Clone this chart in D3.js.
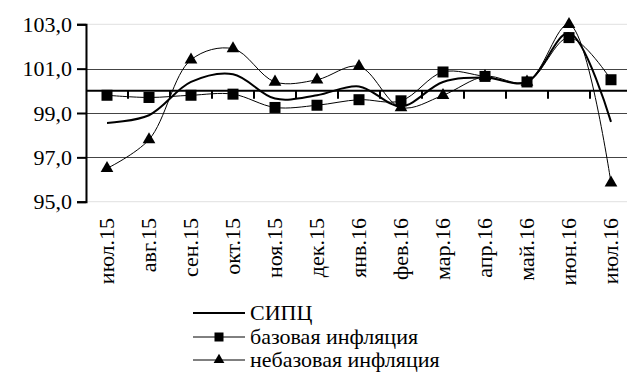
<!DOCTYPE html>
<html><head><meta charset="utf-8">
<script src="https://cdn.jsdelivr.net/npm/d3@7"></script>
</head><body style="margin:0">
<svg id="c" width="627" height="372"></svg>
<script>
const categories = ["июл.15","авг.15","сен.15","окт.15","ноя.15","дек.15","янв.16","фев.16","мар.16","апр.16","май.16","июн.16","июл.16"];
const sipc = [98.55,98.9,100.4,100.75,99.65,99.8,100.2,99.3,100.4,100.6,100.4,102.6,98.6];
const baseInfl = [99.8,99.7,99.8,99.85,99.25,99.35,99.6,99.55,100.85,100.65,100.4,102.4,100.5];
const nonBaseInfl = [96.5,97.8,101.4,101.9,100.4,100.5,101.1,99.25,99.8,100.65,100.4,103.0,95.85];
const yTicks = [95,97,99,101,103];
const seriesNames = ["СИПЦ","базовая инфляция","небазовая инфляция"];

const svg = d3.select("#c");
const x = d3.scaleBand().domain(categories).range([86,632]);
const y = d3.scaleLinear().domain([95,103]).range([201.7,24.3]);
const cx = d => x(d)+x.bandwidth()/2;
function serif(sel, size){ return sel.style("font-family", '"Times New Roman"').style("font-size", size+"px").attr("fill","#000"); }

svg.append("rect").attr("x",86).attr("y",y(103)).attr("width",600).attr("height",y(95)-y(103))
  .attr("fill","none").attr("stroke","#e0e0e0").attr("stroke-width",1);
svg.selectAll(".grid").data([97,99,101]).join("line")
  .attr("x1",86).attr("x2",627).attr("y1",d=>Math.round(y(d))+0.5).attr("y2",d=>Math.round(y(d))+0.5)
  .attr("stroke","#444").attr("stroke-width",1);

const ya = svg.append("g").attr("transform","translate(86,0)")
  .call(d3.axisLeft(y).tickValues(yTicks).tickSize(9).tickFormat(""));
ya.select(".domain").attr("stroke","#000").attr("stroke-width",2);
ya.selectAll(".tick line").attr("stroke","#000").attr("stroke-width",2);
const ylab = svg.selectAll(".yl").data(yTicks).enter().append("text")
  .attr("x",72).attr("y",d=>y(d)).attr("dy","0.35em").attr("text-anchor","end")
  .text(d=>d3.format(".1f")(d).replace(".",","));
serif(ylab,22);

const xa = svg.append("g").attr("transform",`translate(0,${y(100)})`);
xa.append("line").attr("x1",86).attr("x2",627).attr("stroke","#000").attr("stroke-width",2);
xa.selectAll(".tk").data(categories.slice(1)).join("line")
  .attr("x1",d=>x(d)).attr("x2",d=>x(d)).attr("y1",0).attr("y2",8).attr("stroke","#000").attr("stroke-width",2);

const xl = svg.selectAll(".xl").data(categories).enter().append("text")
  .attr("transform",d=>`translate(${cx(d)+7},218) rotate(-90)`)
  .attr("text-anchor","end").text(d=>d);
serif(xl,22);

const curve = d3.curveCatmullRom.alpha(0.5);
const line = d3.line().x((d,i)=>cx(categories[i])).y(d=>y(d)).curve(curve);

svg.append("path").datum(nonBaseInfl).attr("d",line).attr("fill","none").attr("stroke","#000").attr("stroke-width",1);
svg.append("path").datum(baseInfl).attr("d",line).attr("fill","none").attr("stroke","#000").attr("stroke-width",1);
svg.append("path").datum(sipc).attr("d",line).attr("fill","none").attr("stroke","#000").attr("stroke-width",2);

const sq = 11, tri = d3.symbol().type(d3.symbolTriangle).size(70);
svg.selectAll(".sq").data(baseInfl).join("rect")
  .attr("x",(d,i)=>cx(categories[i])-sq/2).attr("y",d=>y(d)-sq/2).attr("width",sq).attr("height",sq).attr("fill","#000");
svg.selectAll(".tr").data(nonBaseInfl).join("path")
  .attr("d",tri).attr("transform",(d,i)=>`translate(${cx(categories[i])},${y(d)})`).attr("fill","#000");

const ly = [313,337,360];
seriesNames.forEach((n,i)=>{
  svg.append("line").attr("x1",193).attr("x2",245).attr("y1",ly[i]).attr("y2",ly[i]).attr("stroke","#000").attr("stroke-width",i===0?2:1);
  if(i===1) svg.append("rect").attr("x",219-4.5).attr("y",ly[i]-4.5).attr("width",9).attr("height",9).attr("fill","#000");
  if(i===2) svg.append("path").attr("d",d3.symbol().type(d3.symbolTriangle).size(50)).attr("transform",`translate(219,${ly[i]})`).attr("fill","#000");
  serif(svg.append("text").attr("x",250).attr("y",ly[i]+7).text(n), 22);
});
</script>
</body></html>
